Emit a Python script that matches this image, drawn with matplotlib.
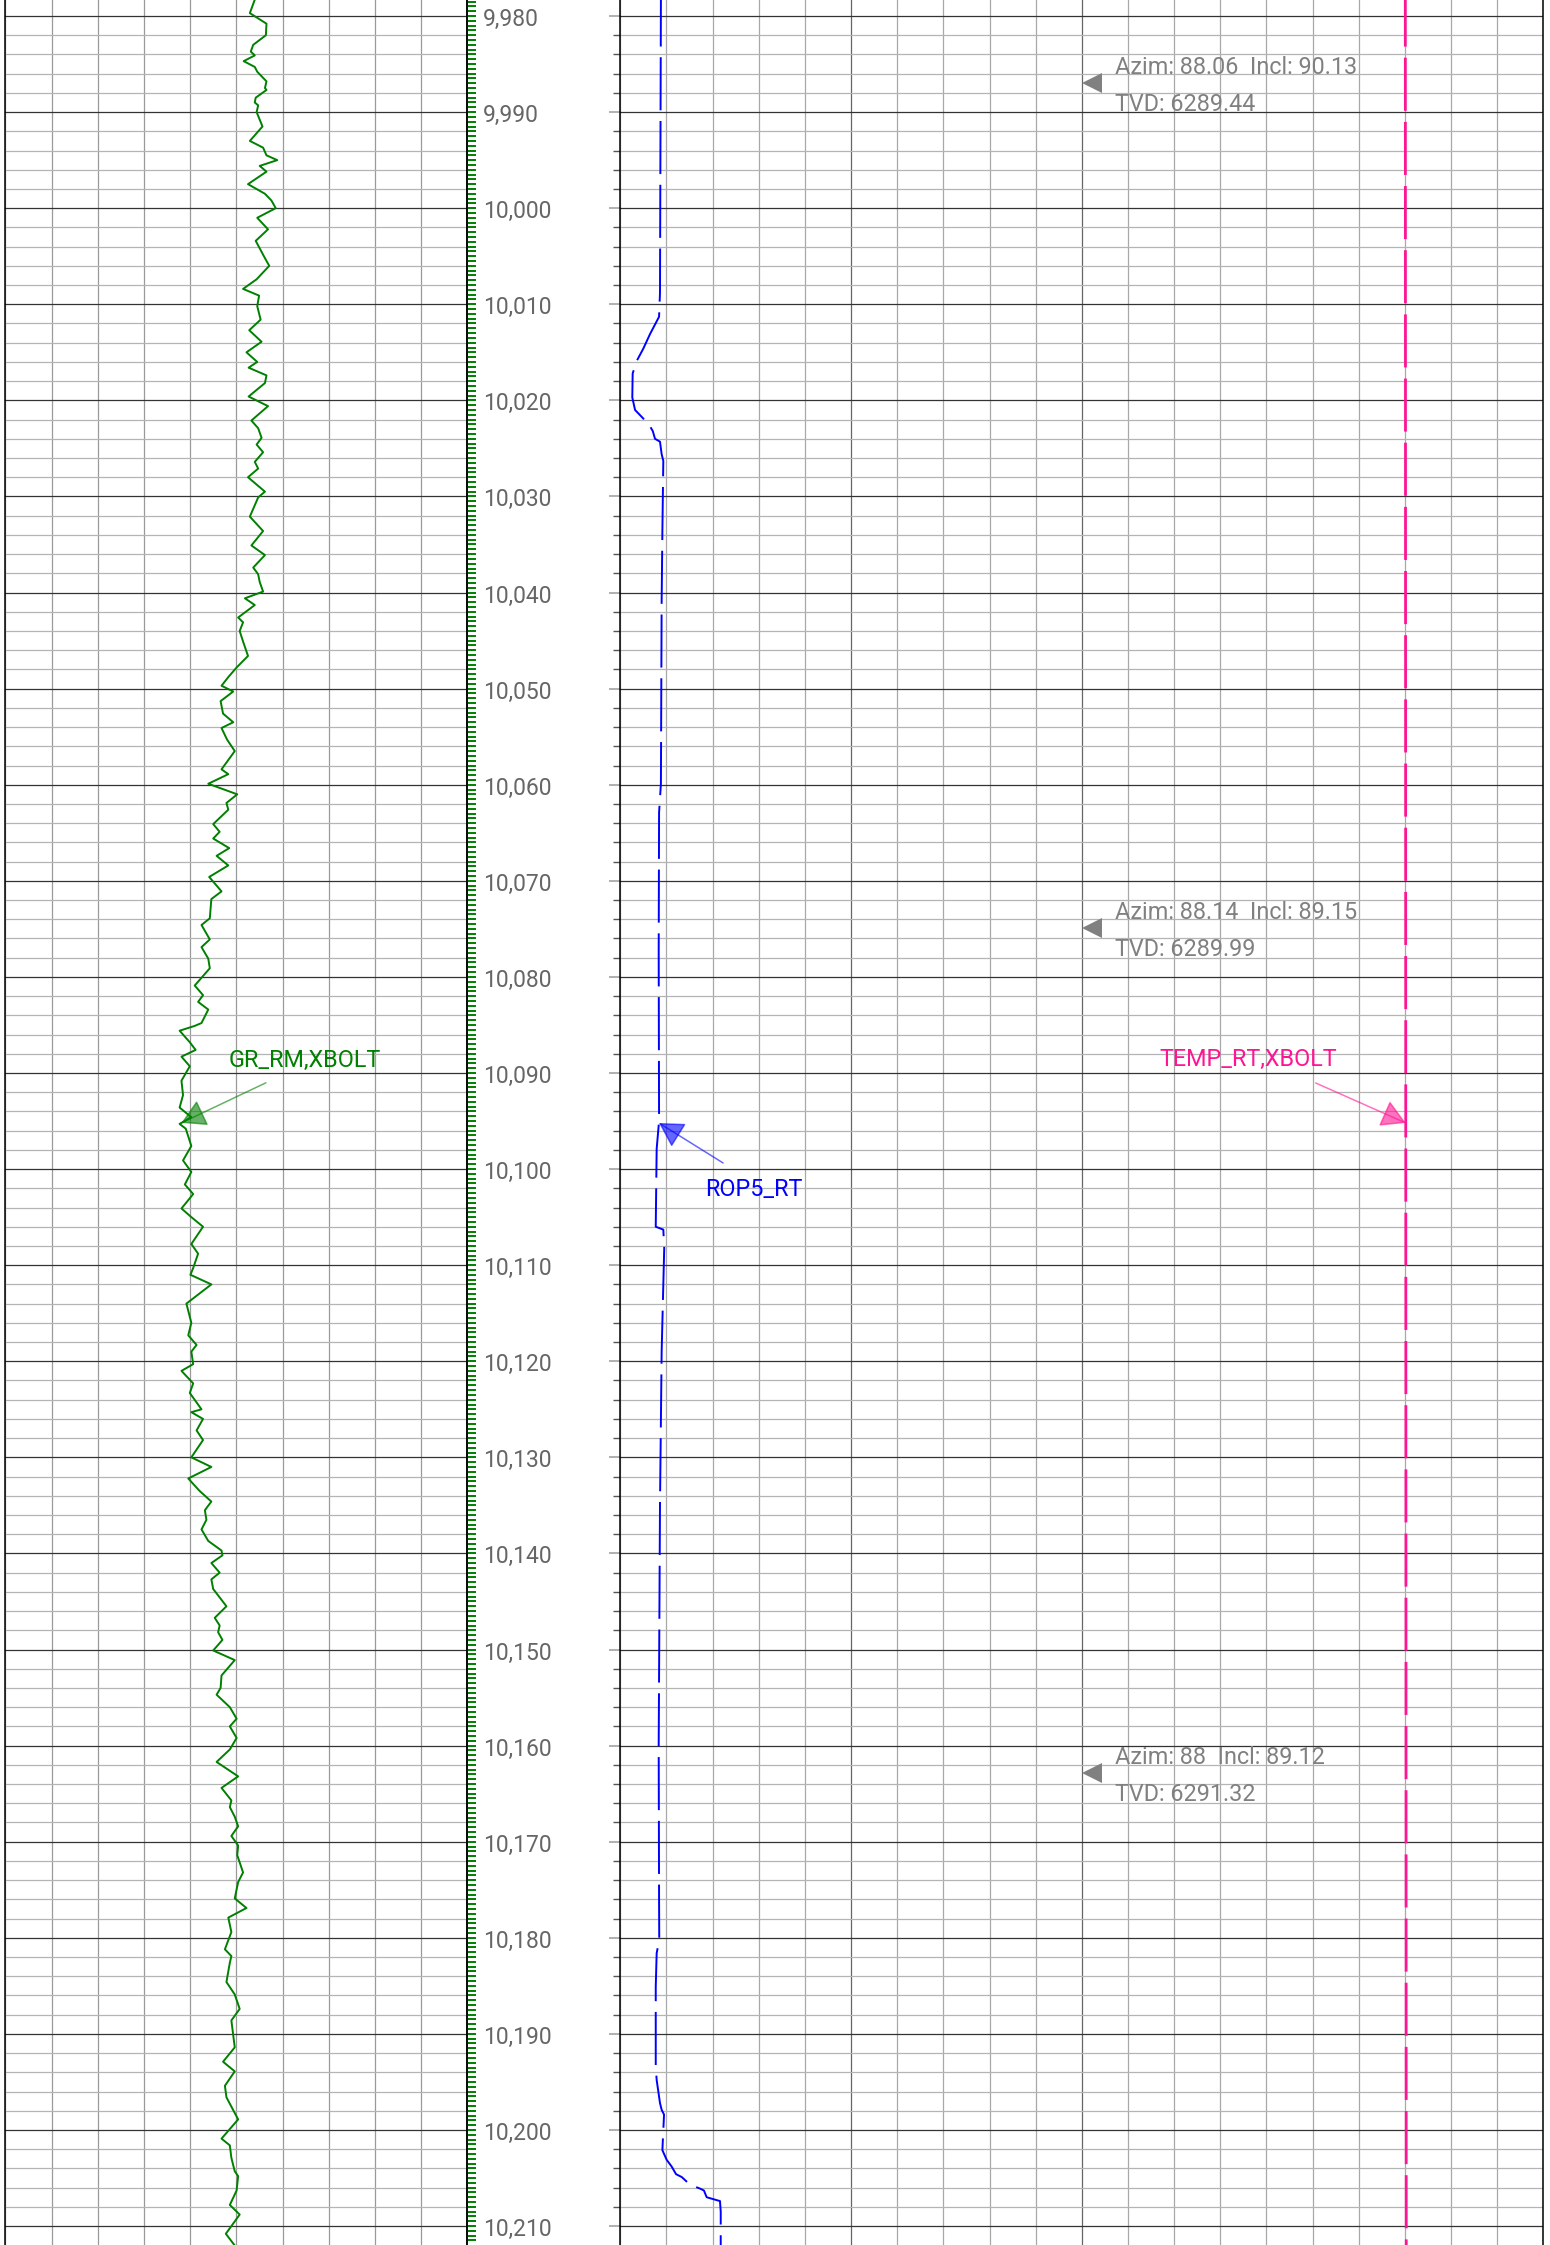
import numpy as np
import matplotlib
matplotlib.use('Agg')
import matplotlib.pyplot as plt
from matplotlib.ticker import MultipleLocator, FixedLocator, NullFormatter

plt.rcParams['font.family'] = ['Roboto', 'DejaVu Sans']

W, H, DPI = 1550, 2245, 100
TOP, BOTTOM = 9978.335, 10211.97

# gamma ray (left track, 0-150 API)
gr_depth = [9978.3, 9979.7, 9980.8, 9982.0, 9983.0, 9983.7, 9984.1, 9984.7, 9985.3, 9985.8,
            9986.8, 9987.5, 9987.7, 9988.5, 9989.0, 9989.3, 9990.0, 9991.5, 9993.0, 9993.7,
            9994.5, 9995.0, 9995.6, 9996.2, 9997.5, 9998.5, 9999.2, 10000.0, 10001.0, 10002.2,
            10003.4, 10005.2, 10006.0, 10007.4, 10008.4, 10009.1, 10010.2, 10011.6, 10012.7, 10013.9,
            10015.0, 10016.0, 10016.6, 10017.4, 10018.2, 10019.6, 10020.6, 10022.1, 10022.9, 10023.9,
            10024.6, 10025.4, 10026.4, 10027.1, 10028.0, 10029.5, 10030.1, 10032.1, 10033.6, 10035.1,
            10036.1, 10037.4, 10038.1, 10038.9, 10039.9, 10040.6, 10041.3, 10042.6, 10043.1, 10044.0,
            10045.1, 10046.6, 10047.8, 10048.8, 10049.7, 10050.3, 10051.3, 10052.6, 10053.5, 10054.1,
            10055.3, 10056.5, 10058.4, 10058.9, 10059.9, 10061.0, 10061.9, 10062.6, 10064.1, 10064.9,
            10065.6, 10066.6, 10067.4, 10068.4, 10069.6, 10071.1, 10071.9, 10073.9, 10074.6, 10076.1,
            10076.9, 10078.1, 10079.1, 10080.9, 10081.9, 10082.6, 10083.4, 10084.8, 10085.1, 10085.6,
            10086.8, 10087.6, 10088.3, 10089.3, 10090.8, 10092.3, 10093.6, 10094.6, 10095.3, 10095.8,
            10097.6, 10099.1, 10100.3, 10101.6, 10102.6, 10104.1, 10105.0, 10106.0, 10107.8, 10108.8,
            10110.3, 10111.0, 10112.0, 10114.0, 10116.0, 10117.3, 10118.3, 10119.0, 10120.3, 10121.0,
            10122.3, 10123.3, 10125.0, 10125.3, 10126.0, 10127.2, 10128.2, 10130.0, 10131.0, 10132.2,
            10133.5, 10134.6, 10135.5, 10136.5, 10137.5, 10138.7, 10139.7, 10140.2, 10141.0, 10142.0,
            10142.7, 10143.7, 10145.5, 10146.7, 10147.5, 10148.2, 10149.0, 10150.1, 10151.1, 10152.7,
            10154.0, 10154.7, 10156.0, 10157.2, 10158.0, 10159.2, 10160.4, 10161.7, 10163.2, 10164.4,
            10165.7, 10166.4, 10167.4, 10168.4, 10169.4, 10170.4, 10171.4, 10173.2, 10174.2, 10175.9,
            10176.9, 10177.9, 10179.4, 10181.2, 10181.9, 10182.6, 10184.6, 10185.9, 10187.4, 10188.6,
            10191.4, 10192.9, 10193.9, 10195.4, 10196.6, 10198.9, 10200.9, 10201.6, 10202.9, 10204.3,
            10204.8, 10206.3, 10207.8, 10208.8, 10210.8, 10212.7]
gr_value = [81.0, 79.4, 84.8, 84.6, 80.5, 79.7, 81.0, 77.4, 81.0, 81.8,
            84.8, 84.3, 84.8, 81.3, 81.0, 82.1, 81.6, 83.5, 79.4, 83.7,
            84.8, 88.3, 82.6, 84.8, 78.8, 84.3, 86.4, 87.8, 81.8, 85.3,
            81.3, 84.3, 85.7, 81.6, 77.2, 82.4, 81.8, 82.9, 79.2, 83.2,
            78.3, 81.8, 79.0, 84.8, 84.3, 79.0, 85.3, 79.9, 82.1, 83.2,
            81.6, 83.7, 81.0, 82.1, 78.8, 84.3, 82.1, 79.4, 83.7, 79.9,
            84.3, 80.5, 82.1, 82.6, 83.7, 77.8, 81.0, 75.6, 77.2, 76.1,
            77.2, 78.8, 75.1, 72.4, 70.2, 74.0, 69.9, 70.7, 74.0, 70.2,
            72.0, 74.5, 70.2, 72.4, 65.9, 75.3, 71.8, 72.4, 67.5, 69.6,
            67.5, 72.7, 68.6, 72.4, 66.2, 70.2, 66.9, 66.4, 63.7, 66.4,
            63.7, 65.9, 66.4, 61.5, 64.2, 62.6, 65.9, 63.7, 61.5, 56.6,
            59.9, 61.8, 57.2, 59.9, 57.2, 57.7, 56.6, 60.4, 56.6, 58.6,
            60.4, 57.7, 60.4, 58.3, 61.0, 57.2, 60.4, 64.2, 60.4, 62.6,
            61.0, 60.1, 66.9, 58.8, 60.4, 59.4, 62.1, 60.4, 61.0, 57.2,
            61.0, 59.9, 63.7, 60.4, 64.2, 62.1, 64.2, 60.4, 66.9, 59.4,
            63.1, 66.9, 64.8, 65.3, 63.7, 65.9, 70.2, 70.5, 66.9, 69.6,
            66.9, 67.5, 71.8, 68.0, 69.6, 69.1, 70.5, 67.5, 74.5, 70.2,
            69.9, 68.6, 72.9, 75.1, 72.9, 75.1, 72.9, 68.6, 75.6, 70.2,
            73.4, 72.9, 74.5, 75.6, 73.4, 75.6, 75.3, 77.2, 75.6, 74.5,
            78.3, 72.4, 73.4, 71.3, 73.4, 72.9, 71.8, 74.5, 76.1, 73.4,
            74.5, 70.7, 74.5, 71.3, 71.8, 75.6, 70.2, 72.9, 73.4, 74.5,
            75.6, 75.1, 72.9, 76.1, 71.6, 76.1]

# rate of penetration (right track, 0-500 ft/hr)
rop_depth = [9978.3, 10008.8, 10011.3, 10013.1, 10014.6, 10015.9, 10017.2, 10019.7, 10021.0, 10021.9,
             10022.1, 10023.2, 10024.0, 10024.3, 10025.6, 10026.3, 10033.6, 10040.9, 10059.9, 10062.9,
             10077.5, 10095.0, 10097.9, 10106.0, 10106.3, 10108.2, 10119.0, 10135.0, 10160.0, 10176.0,
             10180.2, 10181.6, 10185.1, 10193.4, 10194.8, 10197.2, 10197.9, 10198.4, 10200.0, 10202.1,
             10203.1, 10203.8, 10204.6, 10204.9, 10205.7, 10206.1, 10206.3, 10207.0, 10207.4, 10208.5,
             10212.0]
rop_value = [22.0, 21.5, 21.0, 16.1, 12.5, 8.9, 6.7, 6.5, 8.0, 12.5,
             14.3, 17.6, 18.8, 21.5, 22.4, 23.3, 22.8, 22.4, 22.0, 21.0,
             20.8, 21.0, 19.7, 19.2, 23.3, 23.8, 22.4, 21.5, 20.8, 21.0,
             21.1, 19.7, 19.2, 19.2, 19.7, 21.5, 22.4, 23.7, 23.3, 22.8,
             25.1, 27.8, 30.2, 33.3, 37.8, 43.2, 45.3, 46.8, 54.0, 54.4,
             54.4]

# temperature (right track, 0-200 degF)
temp_depth = [9978.3, 10095.0, 10212.0]
temp_value = [170.1, 170.2, 170.3]

# directional surveys
survey_depth = [9987.0, 10074.9, 10162.9]
survey_azim = [88.06, 88.14, 88.0]
survey_incl = [90.13, 89.15, 89.12]
survey_tvd = [6289.44, 6289.99, 6291.32]

depth_labels = list(range(9980, 10211, 10))
label_depth = 10095.2

fig = plt.figure(figsize=(W / DPI, H / DPI), dpi=DPI, facecolor='white')


def px_axes(x0, x1):
    return fig.add_axes([x0 / W, 0, (x1 - x0) / W, 1])


def track(ax, xlim, xmajor, xminor=None):
    ax.set_xlim(*xlim)
    ax.set_ylim(BOTTOM, TOP)
    ax.set_axisbelow(True)
    ax.xaxis.set_major_locator(xmajor)
    if xminor:
        ax.xaxis.set_minor_locator(xminor)
    ax.yaxis.set_major_locator(MultipleLocator(10))
    ax.yaxis.set_minor_locator(MultipleLocator(2))
    ax.grid(axis='y', which='major', color='#333333', lw=0.9)
    ax.grid(axis='y', which='minor', color='#b4b4b4', lw=0.9)
    ax.tick_params(axis='x', which='both', length=0, labelbottom=False, labeltop=False)
    ax.tick_params(axis='y', which='both', length=0, labelleft=False)
    for s in ('top', 'bottom'):
        ax.spines[s].set_visible(False)
    for s in ('left', 'right'):
        ax.spines[s].set_color('black')
        ax.spines[s].set_linewidth(1.1)


# left track
ax_l = px_axes(5.3, 467.3)
track(ax_l, (0, 150), MultipleLocator(15))
ax_l.grid(axis='x', which='major', color='#9a9a9a', lw=0.9)
ax_l.plot(gr_value, gr_depth, color='#008000', lw=1.4)

# depth track
ax_d = px_axes(467.3, 620.3)
ax_d.set_xlim(0, 1)
ax_d.set_ylim(BOTTOM, TOP)
ax_d.patch.set_alpha(0)
for s in ('top', 'bottom', 'right'):
    ax_d.spines[s].set_visible(False)
ax_d.spines['left'].set_linewidth(1.1)
ax_d.xaxis.set_visible(False)
ax_d.yaxis.set_major_locator(MultipleLocator(10))
ax_d.yaxis.set_minor_locator(MultipleLocator(0.5))
ax_d.yaxis.set_major_formatter(NullFormatter())
ax_d.tick_params(axis='y', which='both', direction='in', length=6.8, width=1.4,
                 color='#008000', labelleft=False)
for d in depth_labels:
    ax_d.text(0.103, d + 1.04, f'{d:,}', transform=ax_d.get_yaxis_transform(),
              ha='left', va='baseline', fontsize=16.5, color='#666666')

# right track
ax_r = px_axes(620.3, 1543.3)
track(ax_r, (0, 20), FixedLocator([5, 10]), MultipleLocator(1))
ax_r.grid(axis='x', which='major', color='#666666', lw=0.9)
ax_r.grid(axis='x', which='minor', color='#a8a8a8', lw=0.9)
ax_r.tick_params(axis='y', which='major', direction='out', length=7.9, width=1.3,
                 color='#aaaaaa', left=True)
ax_r.tick_params(axis='y', which='minor', direction='out', length=5.0, width=1.0,
                 color='#555555', left=True)

ax_rop = ax_r.twiny()
ax_rop.set_xlim(0, 500)
ax_temp = ax_r.twiny()
ax_temp.set_xlim(0, 200)
for a in (ax_rop, ax_temp):
    a.xaxis.set_visible(False)
    for s in a.spines.values():
        s.set_visible(False)

ax_rop.plot(rop_value, rop_depth, color='#0000ff', lw=1.4, linestyle=(3.2, (27.3, 5.5)))
ax_temp.plot(temp_value, temp_depth, color='#ff1493', lw=2.0, linestyle=(2.2, (19.1, 4.0)))

# surveys
for d, az, inc, tvd in zip(survey_depth, survey_azim, survey_incl, survey_tvd):
    ax_r.plot(10.217, d, marker='<', ms=15, color='#808080', mew=0)
    ax_r.annotate(f'Azim: {az:g}  Incl: {inc:g}', xy=(10, d), xytext=(24, 6.5),
                  textcoords='offset points', ha='left', va='baseline',
                  fontsize=16.8, color='#808080')
    ax_r.annotate(f'TVD: {tvd:g}', xy=(10, d), xytext=(24, -19.9),
                  textcoords='offset points', ha='left', va='baseline',
                  fontsize=16.8, color='#808080')

# curve labels
labels = [
    (ax_l, 'GR_RM,XBOLT', gr_depth, gr_value, '#008000', (60.9, 28.9), (88.6, 40.4)),
    (ax_rop, 'ROP5_RT', rop_depth, rop_value, '#0000ff', (46.2, -28.8), (68.4, -52.3)),
    (ax_temp, 'TEMP_RT,XBOLT', temp_depth, temp_value, '#ff1493', (-64.9, 28.8), (-113.7, 40.8)),
]
for ax, name, dep, val, col, tail, txt in labels:
    tip = (np.interp(label_depth, dep, val), label_depth)
    ax.annotate('', xy=tip, xytext=tail, textcoords='offset points',
                arrowprops=dict(arrowstyle='-|>,head_length=0.4,head_width=0.23',
                                mutation_scale=38, color=col, alpha=0.6, lw=1.1,
                                shrinkA=0, shrinkB=0))
    ax.annotate(name, xy=tip, xytext=txt, textcoords='offset points',
                ha='center', va='baseline', fontsize=16.8, color=col)

fig.savefig('out.png', dpi=DPI, facecolor='white')
